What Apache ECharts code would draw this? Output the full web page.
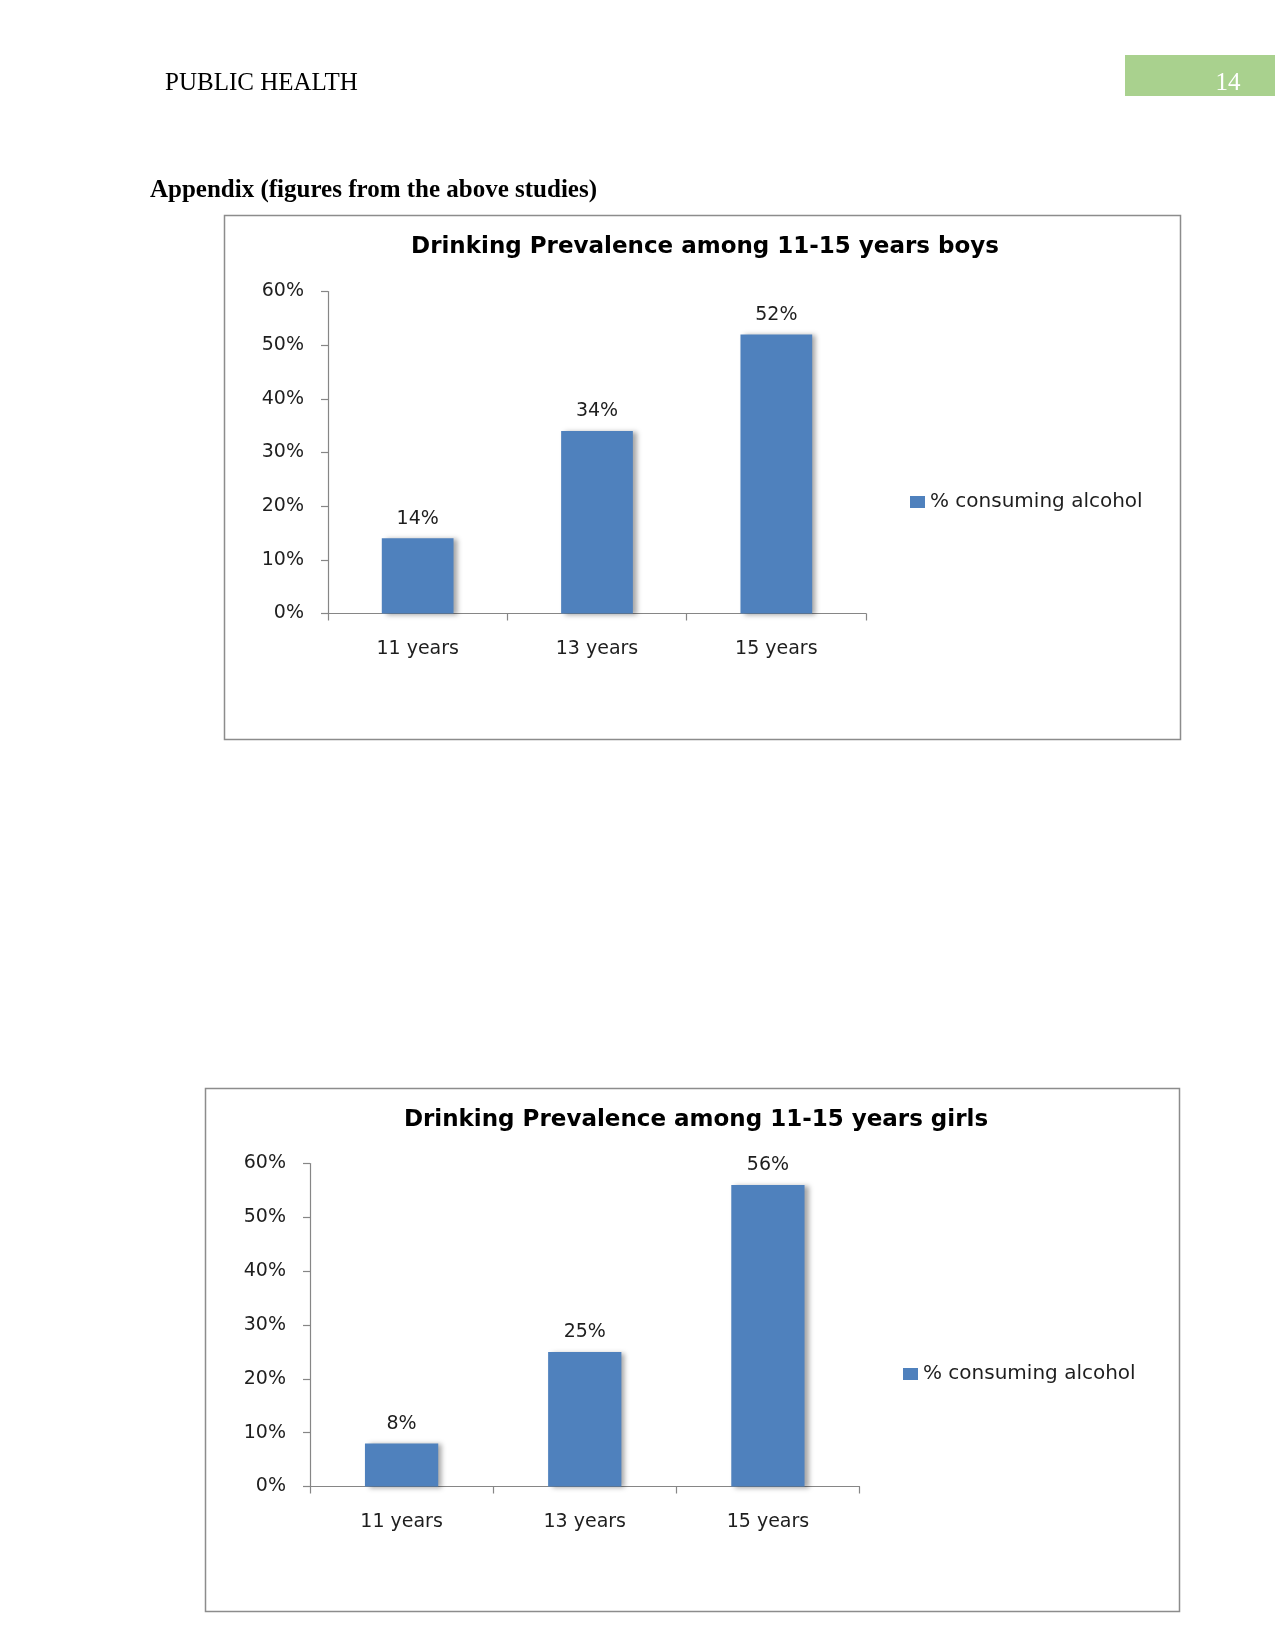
<!DOCTYPE html>
<html>
<head>
<meta charset="utf-8">
<script src="https://cdn.jsdelivr.net/npm/echarts@6/dist/echarts.min.js"></script>
<style>
html,body{margin:0;padding:0;background:#fff;}
#c{width:1275px;height:1650px;}
</style>
</head>
<body>
<div id="c"></div>
<script>
const categories = ['11 years', '13 years', '15 years'];
const boysValues = [14, 34, 52];
const girlsValues = [8, 25, 56];
const seriesName = '% consuming alcohol';
const boysTitle = 'Drinking Prevalence among 11-15 years boys';
const girlsTitle = 'Drinking Prevalence among 11-15 years girls';
const headerText = 'PUBLIC HEALTH';
const pageNumber = '14';
const appendixText = 'Appendix (figures from the above studies)';

const chart = echarts.init(document.getElementById('c'), null, {renderer: 'canvas'});
const FONT = '"DejaVu Sans", sans-serif';
const barColor = '#4F81BD';
const axisColor = '#868686';
const labelColor = '#1e1e1e';
const FS = 19;

function xAxis(gridIndex) {
  return {
    type: 'category', gridIndex, data: categories,
    axisLine: {lineStyle: {color: axisColor, width: 1.2}},
    axisTick: {show: true, length: 7, alignWithLabel: false, lineStyle: {color: axisColor, width: 1.2}},
    axisLabel: {color: labelColor, fontFamily: FONT, fontSize: FS, margin: 26}
  };
}
function yAxis(gridIndex) {
  return {
    type: 'value', gridIndex, min: 0, max: 60, interval: 10,
    axisLine: {show: true, lineStyle: {color: axisColor, width: 1.2}},
    axisTick: {show: true, length: 7, lineStyle: {color: axisColor, width: 1.2}},
    splitLine: {show: false},
    axisLabel: {color: labelColor, fontFamily: FONT, fontSize: FS, margin: 24, formatter: '{value}%',
                padding: [4, 0, 0, 0]}
  };
}
function barSeries(idx, values) {
  return {
    type: 'bar', name: seriesName, xAxisIndex: idx, yAxisIndex: idx,
    data: values, barCategoryGap: '60%',
    itemStyle: {color: barColor, shadowColor: 'rgba(0,0,0,0.35)', shadowBlur: 5, shadowOffsetX: 4, shadowOffsetY: 1},
    label: {show: true, position: 'top', distance: 10, color: labelColor, fontFamily: FONT, fontSize: FS, formatter: '{c}%'},
    emphasis: {disabled: true}
  };
}

const option = {
  animation: false,
  backgroundColor: '#ffffff',
  title: [
    {text: boysTitle, left: 700, top: 231, textAlign: 'center',
     textStyle: {fontFamily: FONT, fontWeight: 'bold', fontSize: 23, color: '#000'}},
    {text: girlsTitle, left: 691, top: 1104, textAlign: 'center',
     textStyle: {fontFamily: FONT, fontWeight: 'bold', fontSize: 23, color: '#000'}}
  ],
  legend: [
    {data: [seriesName], left: 905, top: 487, icon: 'rect', itemWidth: 15, itemHeight: 12, itemGap: 6,
     textStyle: {fontFamily: FONT, fontSize: 20, color: labelColor}, selectedMode: false},
    {data: [seriesName], left: 898, top: 1359, icon: 'rect', itemWidth: 15, itemHeight: 12, itemGap: 6,
     textStyle: {fontFamily: FONT, fontSize: 20, color: labelColor}, selectedMode: false}
  ],
  grid: [
    {left: 328, top: 291.5, width: 538, height: 322},
    {left: 310, top: 1163.5, width: 549.5, height: 323}
  ],
  xAxis: [xAxis(0), xAxis(1)],
  yAxis: [yAxis(0), yAxis(1)],
  series: [barSeries(0, boysValues), barSeries(1, girlsValues)],
  graphic: [
    {type: 'rect', shape: {x: 1125, y: 55, width: 150, height: 41}, style: {fill: '#A9D18E'}, z: 0},
    {type: 'text', x: 1228, y: 83, style: {text: pageNumber, fill: '#ffffff', font: '25px "Liberation Serif"', textAlign: 'center', textVerticalAlign: 'middle'}},
    {type: 'text', x: 165, y: 83, style: {text: headerText, fill: '#000', font: '25px "Liberation Serif"', textVerticalAlign: 'middle'}},
    {type: 'text', x: 150, y: 191, style: {text: appendixText, fill: '#000', font: 'bold 25px "Liberation Serif"', textVerticalAlign: 'middle'}},
    {type: 'rect', shape: {x: 224.5, y: 215.5, width: 956, height: 524}, style: {fill: 'none', stroke: '#8c8c8c', lineWidth: 1.5}, z: -1},
    {type: 'rect', shape: {x: 205.5, y: 1088.5, width: 974, height: 523}, style: {fill: 'none', stroke: '#8c8c8c', lineWidth: 1.5}, z: -1}
  ]
};
chart.setOption(option);
</script>
</body>
</html>
